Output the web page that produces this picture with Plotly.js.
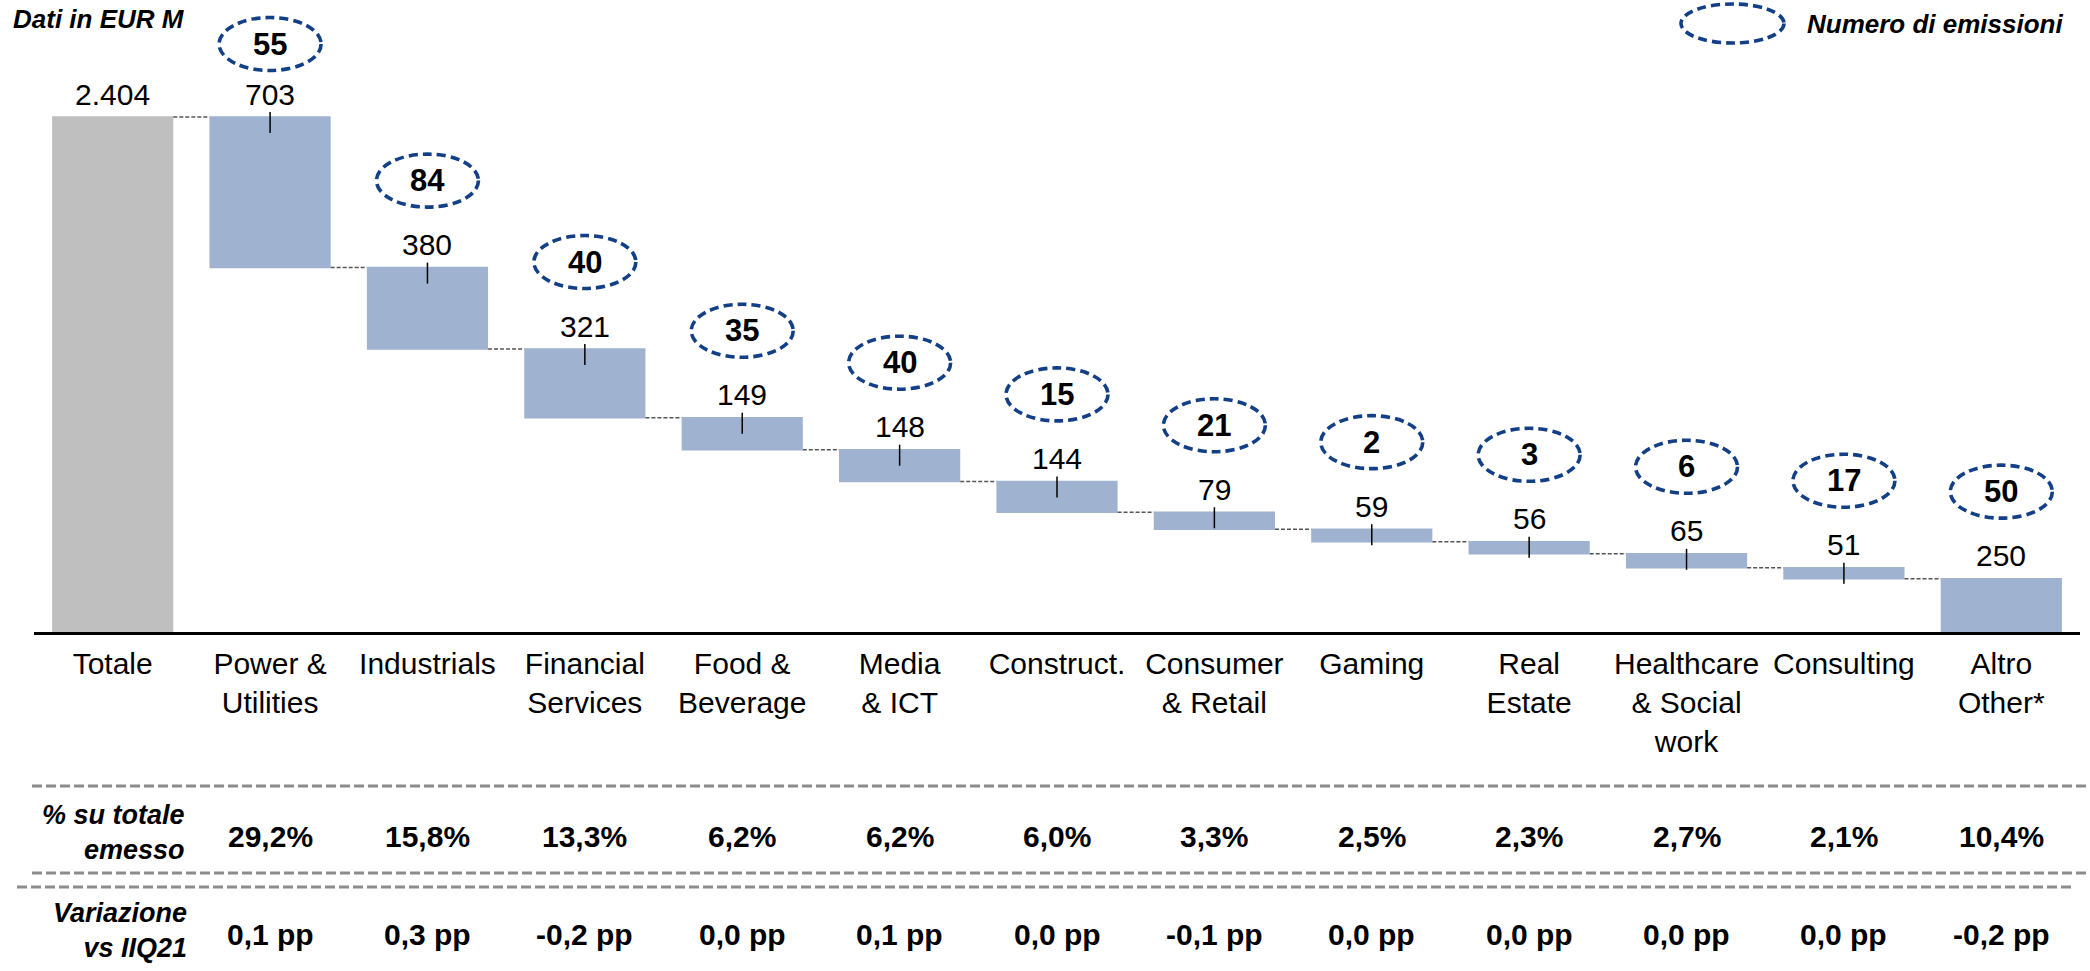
<!DOCTYPE html>
<html>
<head>
<meta charset="utf-8">
<script src="https://cdn.plot.ly/plotly-3.0.1.min.js"></script>
<style>
html,body{margin:0;padding:0;background:#fff;}
#chart{width:2090px;height:971px;}
</style>
</head>
<body>
<div id="chart"></div>
<script>
// ---- Data ----
const categories = ["Totale","Power &<br>Utilities","Industrials","Financial<br>Services","Food &<br>Beverage","Media<br>& ICT","Construct.","Consumer<br>& Retail","Gaming","Real<br>Estate","Healthcare<br>& Social<br>work","Consulting","Altro<br>Other*"];
const values = [2404, 703, 380, 321, 149, 148, 144, 79, 59, 56, 65, 51, 250];
const emissions = [null, 55, 84, 40, 35, 40, 15, 21, 2, 3, 6, 17, 50];
const shareOfTotal = [null, 29.2, 15.8, 13.3, 6.2, 6.2, 6.0, 3.3, 2.5, 2.3, 2.7, 2.1, 10.4];
const changeVsIIQ21 = [null, 0.1, 0.3, -0.2, 0.0, 0.1, 0.0, -0.1, 0.0, 0.0, 0.0, 0.0, -0.2];
const headerText = "Dati in EUR M";
const legendText = "Numero di emissioni";
const rowLabel1 = "% su totale<br>emesso";
const rowLabel2 = "Variazione<br>vs IIQ21";

// ---- Layout constants ----
const W = 2090, H = 971;
const M = {l: 34, r: 10, t: 32, b: 339};
const PW = W - M.l - M.r, PH = H - M.t - M.b;
const yMax = values[0] * PH / 515;
const FONT = "Liberation Sans, Arial, sans-serif";
const BLUE = "#9FB2CF", GREY = "#BFBFBF", RING = "#123F86", SEP = "#8C8C8C";

const px2x = p => (p - M.l) / PW;
const px2y = p => (H - M.b - p) / PH;
const val2py = v => (H - M.b) - v / yMax * PH;

const fmtInt = v => String(v).replace(/\B(?=(\d{3})+(?!\d))/g, ".");
const fmtDec = v => v.toFixed(1).replace(".", ",");

// tops of bars
const tops = [];
let run = values[0];
tops.push(values[0]);
for (let i = 1; i < values.length; i++) { tops.push(run); run -= values[i]; }

const idx = categories.map((_, i) => i);

const trace = {
  type: "waterfall",
  x: idx,
  y: values.map((v, i) => i === 0 ? v : -v),
  measure: values.map((v, i) => i === 0 ? "absolute" : "relative"),
  totals: {marker: {color: GREY, line: {width: 0}}},
  decreasing: {marker: {color: BLUE, line: {width: 0}}},
  increasing: {marker: {color: BLUE, line: {width: 0}}},
  connector: {mode: "between", line: {color: "#555", width: 1.5, dash: "4px,2px"}},
  textinfo: "none",
  hoverinfo: "none",
  showlegend: false
};

const annotations = [];
const shapes = [];

// value labels + tick marks
values.forEach((v, i) => {
  annotations.push({
    x: i, y: tops[i], xref: "x", yref: "y", yshift: 23,
    text: fmtInt(v), showarrow: false, yanchor: "middle", xanchor: "center",
    font: {family: FONT, size: 30, color: "#000"}
  });
  if (i > 0 && i < values.length - 1) {
    shapes.push({
      type: "line", xref: "x", yref: "y", x0: i, x1: i,
      ysizemode: "pixel", yanchor: tops[i], y0: 5, y1: -16,
      line: {color: "#000", width: 1.5}
    });
  }
});

// emissions ellipses
emissions.forEach((n, i) => {
  if (n === null) return;
  const cy = Math.max(val2py(tops[i]) - 87, 44);
  shapes.push({
    type: "circle", xref: "x", yref: "paper", xsizemode: "pixel", xanchor: i,
    x0: -51, x1: 51, y0: px2y(cy + 26.5), y1: px2y(cy - 26.5),
    line: {color: RING, width: 3.6, dash: "9px,5px"}, fillcolor: "rgba(0,0,0,0)"
  });
  annotations.push({
    x: i, y: px2y(cy), xref: "x", yref: "paper", text: "<b>" + n + "</b>",
    showarrow: false, yanchor: "middle", xanchor: "center",
    font: {family: FONT, size: 31, color: "#000"}
  });
});

// legend ellipse and header texts
shapes.push({
  type: "circle", xref: "paper", yref: "paper",
  x0: px2x(1681), x1: px2x(1784), y0: px2y(43), y1: px2y(4),
  line: {color: RING, width: 3.6, dash: "9px,5px"}, fillcolor: "rgba(0,0,0,0)"
});
annotations.push({
  x: px2x(1805), y: px2y(24), xref: "paper", yref: "paper", xanchor: "left", yanchor: "middle",
  text: "<b><i>" + legendText + "</i></b>", showarrow: false,
  font: {family: FONT, size: 26, color: "#000"}
});
annotations.push({
  x: px2x(11), y: px2y(19), xref: "paper", yref: "paper", xanchor: "left", yanchor: "middle",
  text: "<b><i>" + headerText + "</i></b>", showarrow: false,
  font: {family: FONT, size: 26, color: "#000"}
});

// separators
[[32, 2090, 786], [32, 2090, 873], [17, 2075, 887]].forEach(s => {
  shapes.push({
    type: "line", xref: "paper", yref: "paper",
    x0: px2x(s[0]), x1: px2x(s[1]), y0: px2y(s[2]), y1: px2y(s[2]),
    line: {color: SEP, width: 3, dash: "10px,4px"}
  });
});

// row labels
annotations.push({
  x: px2x(187), y: px2y(832), xref: "paper", yref: "paper", xanchor: "right", yanchor: "middle", align: "right",
  text: "<b><i>" + rowLabel1 + "</i></b>", showarrow: false,
  font: {family: FONT, size: 27, color: "#000"}
});
annotations.push({
  x: px2x(189), y: px2y(930), xref: "paper", yref: "paper", xanchor: "right", yanchor: "middle", align: "right",
  text: "<b><i>" + rowLabel2 + "</i></b>", showarrow: false,
  font: {family: FONT, size: 27, color: "#000"}
});

// row values
shareOfTotal.forEach((v, i) => {
  if (v === null) return;
  annotations.push({
    x: i, y: px2y(836), xref: "x", yref: "paper", xanchor: "center", yanchor: "middle",
    text: "<b>" + fmtDec(v) + "%</b>", showarrow: false,
    font: {family: FONT, size: 30, color: "#000"}
  });
});
changeVsIIQ21.forEach((v, i) => {
  if (v === null) return;
  annotations.push({
    x: i, y: px2y(935), xref: "x", yref: "paper", xanchor: "center", yanchor: "middle",
    text: "<b>" + fmtDec(v) + " pp</b>", showarrow: false,
    font: {family: FONT, size: 30, color: "#000"}
  });
});

const layout = {
  width: W, height: H,
  margin: M,
  paper_bgcolor: "#fff", plot_bgcolor: "#fff",
  font: {family: FONT, color: "#000"},
  waterfallgap: 0.23,
  showlegend: false,
  xaxis: {
    type: "linear", range: [-0.5, values.length - 0.5],
    tickvals: idx, ticktext: categories,
    showline: true, linecolor: "#000", linewidth: 2.5,
    ticks: "", showgrid: false, zeroline: false,
    tickfont: {family: FONT, size: 30, color: "#000"},
    ticklabelstandoff: 3
  },
  yaxis: {visible: false, range: [0, yMax], showgrid: false, zeroline: false},
  annotations: annotations,
  shapes: shapes
};

Plotly.newPlot("chart", [trace], layout, {displayModeBar: false, staticPlot: true});
</script>
</body>
</html>
